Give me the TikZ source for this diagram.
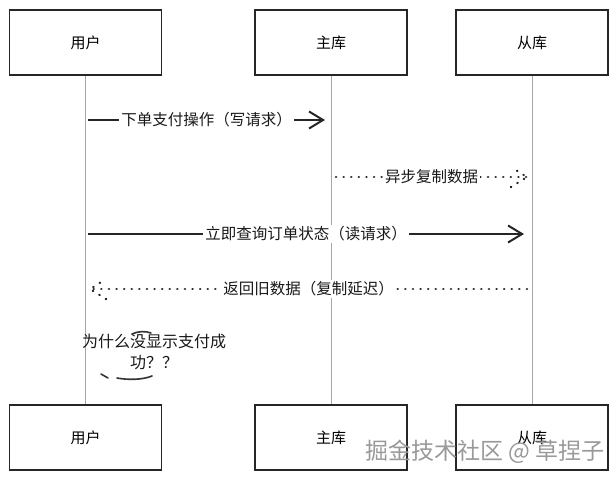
\documentclass[tikz,border=0pt]{standalone}
\usepackage{fontspec}
\setmainfont{Noto Sans CJK SC}
\usetikzlibrary{arrows.meta}
\begin{document}
\begin{tikzpicture}[x=1pt,y=-1pt,
  actor/.style={draw=black!85,line width=1.6pt,minimum width=152pt,minimum height=65pt,font=\fontsize{15}{17}\selectfont,inner sep=0pt},
  life/.style={draw=black!35,line width=0.9pt},
  solidmsg/.style={draw=black!85,line width=2pt,-{Straight Barb[length=14pt,width=17pt,line width=2pt]}},
  dotmsg/.style={draw=black!85,line width=2.6pt,line cap=round,dash pattern=on 0.1pt off 7.5pt},
  lbl/.style={fill=white,inner sep=2pt,font=\fontsize{15.5}{17}\selectfont,text=black!90},
  scribble/.style={draw=black!80,line width=1.6pt,line cap=round}]
\useasboundingbox (0,0) rectangle (616,480);
\fill[white] (0,0) rectangle (616,480);
% actors top
\node[actor] (ut) at (85.5,42.5) {用户};
\node[actor] (mt) at (331,42.5) {主库};
\node[actor] (st) at (532,42.5) {从库};
% actors bottom
\node[actor] (ub) at (85.5,437.5) {用户};
\node[actor] (mb) at (331,437.5) {主库};
\node[actor] (sb) at (532,437.5) {从库};
% lifelines
\draw[life] (ut.south) -- (ub.north);
\draw[life] (mt.south) -- (mb.north);
\draw[life] (st.south) -- (sb.north);
% message anchor points
\coordinate (u1) at (88,120);
\coordinate (m1) at (325,120);
\coordinate (m2) at (336,177);
\coordinate (s2) at (527,177);
\coordinate (u3) at (88,234);
\coordinate (s3) at (524,234);
\coordinate (s4) at (527,289);
\coordinate (u4) at (90,289);
% messages
\draw[solidmsg] (u1) -- node[lbl] {下单支付操作（写请求）} (m1);
\draw[dotmsg] (m2) -- node[lbl] {异步复制数据} (s2);
\draw[dotmsg] ([xshift=-16pt,yshift=-10pt]s2) -- (s2) -- ([xshift=-16pt,yshift=10pt]s2);
\draw[solidmsg] (u3) -- node[lbl] {立即查询订单状态（读请求）} (s3);
\draw[dotmsg] (s4) -- node[lbl] {返回旧数据（复制延迟）} (u4);
\draw[dotmsg] ([xshift=16pt,yshift=-10pt]u4) -- (u4) -- ([xshift=16pt,yshift=10pt]u4);
% note
\node[font=\fontsize{16}{21}\selectfont,align=center,inner sep=0pt,text=black!90] (note) at (154,352) {为什么没显示支付成\\功？？};
\draw[scribble] (132,334) .. controls (138,331) and (146,331) .. (151,333);
\draw[scribble] (101,374) -- (108,378);
\draw[scribble] (117,378) .. controls (128,380) and (142,380) .. (152,376);
% watermark
\node[font=\fontsize{23}{26}\selectfont,text=black!40,inner sep=0pt] (wm) at (485,452) {掘金技术社区 @ 草捏子};
\end{tikzpicture}
\end{document}
